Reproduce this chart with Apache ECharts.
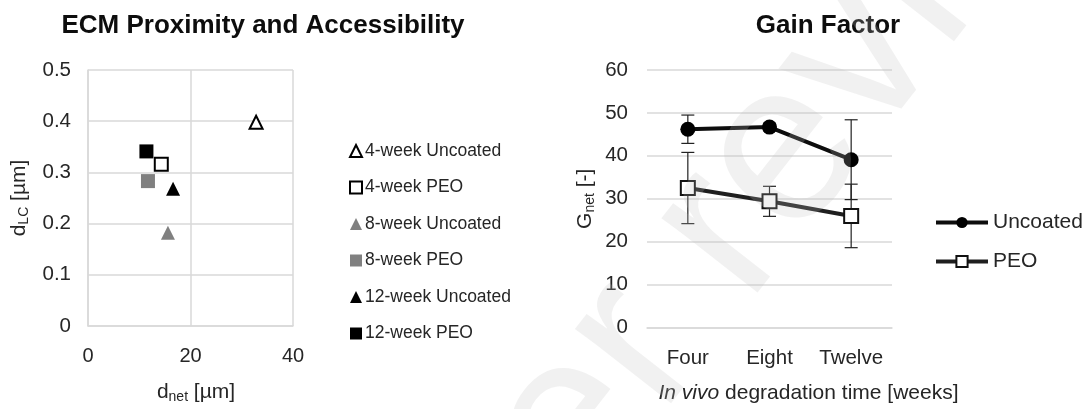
<!DOCTYPE html>
<html>
<head>
<meta charset="utf-8">
<script src="https://cdn.jsdelivr.net/npm/echarts@6/dist/echarts.min.js"></script>
<style>
  html, body { margin: 0; padding: 0; background: #fff; }
  #chart { width: 1085px; height: 409px; }
</style>
</head>
<body>
<div id="chart"></div>
<script>
// ECM proximity: d_net [µm] vs d_LC [µm] per group
const groupNames = ['4-week Uncoated', '4-week PEO', '8-week Uncoated', '8-week PEO', '12-week Uncoated', '12-week PEO'];
const dNet = [32.8, 14.3, 15.6, 11.7, 16.6, 11.4];
const dLC = [0.398, 0.316, 0.182, 0.283, 0.268, 0.341];

// Gain factor G_net by degradation time
const timeLabels = ['Four', 'Eight', 'Twelve'];
const uncoatedMean = [46.2, 46.7, 39.1];
const uncoatedErr = [3.3, 0.9, 9.3];
const peoMean = [32.5, 29.4, 26.0];
const peoErr = [8.3, 3.5, 7.4];

const FONT = 'Liberation Sans';
const TXT = '#262626';
const GRID = '#d9d9d9';

const groupStyles = [
  { symbol: 'triangle', color: '#fff', border: '#000', bw: 2 },
  { symbol: 'rect', color: '#fff', border: '#000', bw: 2 },
  { symbol: 'triangle', color: '#808080', border: '#808080', bw: 0 },
  { symbol: 'rect', color: '#808080', border: '#808080', bw: 0 },
  { symbol: 'triangle', color: '#000', border: '#000', bw: 0 },
  { symbol: 'rect', color: '#000', border: '#000', bw: 0 }
];

const scatterSeries = groupNames.map((name, i) => ({
  name: name,
  type: 'scatter',
  xAxisIndex: 0,
  yAxisIndex: 0,
  symbol: groupStyles[i].symbol,
  symbolSize: groupStyles[i].bw ? 13 : 14,
  itemStyle: {
    color: groupStyles[i].color,
    borderColor: groupStyles[i].border,
    borderWidth: groupStyles[i].bw,
    opacity: 1
  },
  data: [[dNet[i], dLC[i]]],
  z: 3
}));

function errorData(means, errs) {
  return means.map((m, i) => [i, m - errs[i], m + errs[i]]);
}

function renderErrorBar(params, api) {
  const x = api.value(0);
  const lo = api.coord([x, api.value(1)]);
  const hi = api.coord([x, api.value(2)]);
  const cap = 6.5;
  const style = { stroke: '#222', lineWidth: 1.2, fill: null };
  return {
    type: 'group',
    children: [
      { type: 'line', shape: { x1: hi[0], y1: hi[1], x2: lo[0], y2: lo[1] }, style: style },
      { type: 'line', shape: { x1: hi[0] - cap, y1: hi[1], x2: hi[0] + cap, y2: hi[1] }, style: style },
      { type: 'line', shape: { x1: lo[0] - cap, y1: lo[1], x2: lo[0] + cap, y2: lo[1] }, style: style }
    ]
  };
}

const subRich = {
  n: { fontSize: 21, color: TXT, fontFamily: FONT, lineHeight: 24 },
  s: { fontSize: 14, color: TXT, fontFamily: FONT, lineHeight: 14, padding: [10, 0, 0, 0] },
  i: { fontSize: 21, color: TXT, fontFamily: FONT, fontStyle: 'italic', lineHeight: 24 }
};

const chart = echarts.init(document.getElementById('chart'), null, { renderer: 'canvas' });

chart.setOption({
  backgroundColor: '#fff',
  animation: false,
  textStyle: { fontFamily: FONT },
  graphic: [{
    type: 'text',
    z: 100,
    silent: true,
    x: 450,
    y: 770,
    rotation: 52 * Math.PI / 180,
    style: {
      text: 'Peer review',
      fontFamily: FONT,
      fontSize: 230,
      verticalAlign: 'bottom',
      fill: 'rgba(190,190,190,0.22)'
    }
  }],
  title: [
    {
      text: 'ECM Proximity and Accessibility',
      left: 258, top: 8, textAlign: 'center',
      textStyle: { fontFamily: FONT, fontSize: 26, fontWeight: 'bold', color: '#0d0d0d' }
    },
    {
      text: 'Gain Factor',
      left: 823, top: 8, textAlign: 'center',
      textStyle: { fontFamily: FONT, fontSize: 26, fontWeight: 'bold', color: '#0d0d0d' }
    }
  ],
  legend: [
    {
      data: groupNames,
      orient: 'vertical',
      left: 344,
      top: 137,
      itemWidth: 12,
      itemHeight: 12,
      itemGap: 18.5,
      textStyle: { fontFamily: FONT, fontSize: 17.5, color: TXT, padding: [0, 0, 0, -2] }
    },
    {
      data: ['Uncoated', 'PEO'],
      orient: 'vertical',
      left: 929,
      top: 207,
      itemWidth: 52,
      itemHeight: 14,
      itemGap: 18,
      lineStyle: { width: 4 },
      textStyle: { fontFamily: FONT, fontSize: 21, color: TXT }
    }
  ],
  grid: [
    { left: 88, top: 70, width: 205, height: 267 },
    { left: 647, top: 70, width: 245, height: 267 }
  ],
  xAxis: [
    {
      type: 'value', gridIndex: 0, min: 0, max: 40, interval: 20,
      axisLine: { show: true, lineStyle: { color: GRID, width: 1.5 } },
      axisTick: { show: false },
      splitLine: { show: true, lineStyle: { color: GRID, width: 1.5 } },
      axisLabel: { fontFamily: FONT, fontSize: 20, color: TXT, margin: 20 },
      name: '{n|d}{s|net}{n| [µm]}',
      nameLocation: 'middle',
      nameGap: 54,
      nameTextStyle: { rich: subRich, padding: [0, 0, 0, 11] }
    },
    {
      type: 'category', gridIndex: 1, data: timeLabels, boundaryGap: true,
      axisLine: { show: true, lineStyle: { color: GRID, width: 1.5 } },
      axisTick: { show: false },
      axisLabel: { fontFamily: FONT, fontSize: 20.5, color: TXT, margin: 20, interval: 0, hideOverlap: false },
      name: '{i|In vivo}{n| degradation time [weeks]}',
      nameLocation: 'middle',
      nameGap: 54,
      nameTextStyle: { rich: subRich, padding: [0, 0, 0, 78] }
    }
  ],
  yAxis: [
    {
      type: 'value', gridIndex: 0, min: 0, max: 0.5, interval: 0.1,
      axisLine: { show: true, lineStyle: { color: GRID, width: 1.5 } },
      axisTick: { show: false },
      splitLine: { show: true, lineStyle: { color: GRID, width: 1.5 } },
      axisLabel: { fontFamily: FONT, fontSize: 20.5, color: TXT, margin: 17 },
      name: '{n|d}{s|LC}{n| [µm]}',
      nameLocation: 'middle',
      nameGap: 57,
      nameTextStyle: { rich: subRich }
    },
    {
      type: 'value', gridIndex: 1, min: 0, max: 60, interval: 10,
      axisLine: { show: false },
      axisTick: { show: false },
      splitLine: { show: true, lineStyle: { color: GRID, width: 1.5 } },
      axisLabel: { fontFamily: FONT, fontSize: 20.5, color: TXT, margin: 19 },
      name: '{n|G}{s|net}{n| [-]}',
      nameLocation: 'middle',
      nameGap: 50,
      nameTextStyle: { rich: subRich }
    }
  ],
  series: scatterSeries.concat([
    {
      type: 'custom',
      name: 'Uncoated error',
      xAxisIndex: 1, yAxisIndex: 1,
      renderItem: renderErrorBar,
      data: errorData(uncoatedMean, uncoatedErr),
      z: 2
    },
    {
      type: 'custom',
      name: 'PEO error',
      xAxisIndex: 1, yAxisIndex: 1,
      renderItem: renderErrorBar,
      data: errorData(peoMean, peoErr),
      z: 2
    },
    {
      name: 'Uncoated',
      type: 'line',
      xAxisIndex: 1, yAxisIndex: 1,
      data: uncoatedMean,
      symbol: 'circle',
      symbolSize: 15,
      itemStyle: { color: '#000', borderColor: '#000', borderWidth: 0 },
      lineStyle: { color: '#0d0d0d', width: 4 },
      z: 4
    },
    {
      name: 'PEO',
      type: 'line',
      xAxisIndex: 1, yAxisIndex: 1,
      data: peoMean,
      symbol: 'rect',
      symbolSize: 14,
      itemStyle: { color: '#fff', borderColor: '#111', borderWidth: 2 },
      lineStyle: { color: '#1f1f1f', width: 4 },
      z: 4
    }
  ])
});
</script>
</body>
</html>
